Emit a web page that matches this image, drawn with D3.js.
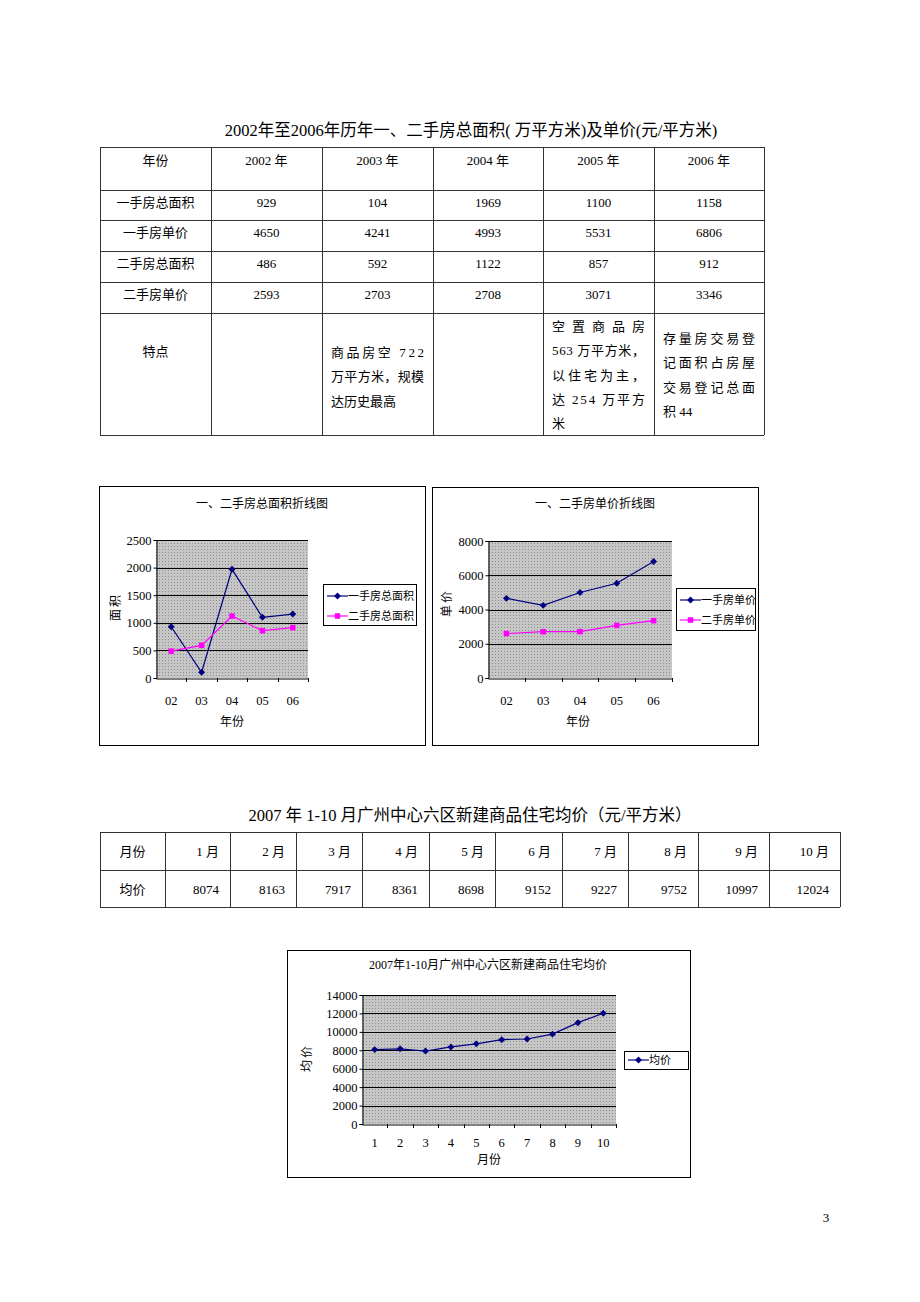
<!DOCTYPE html>
<html>
<head>
<meta charset="utf-8">
<script src="https://cdn.jsdelivr.net/npm/d3@7"></script>
<style>
  body { margin: 0; background: #fff; }
  svg text { font-family: "Liberation Serif", "Noto Sans CJK SC", serif; fill: #000; }
</style>
</head>
<body>
<svg id="page" width="920" height="1302"></svg>
<script>
// ---- data ----
const years = ["2002 年", "2003 年", "2004 年", "2005 年", "2006 年"];
const yearShort = ["02", "03", "04", "05", "06"];
const firstArea = [929, 104, 1969, 1100, 1158];
const firstPrice = [4650, 4241, 4993, 5531, 6806];
const secondArea = [486, 592, 1122, 857, 912];
const secondPrice = [2593, 2703, 2708, 3071, 3346];
const notes = [
  [],
  ["商品房空 722", "万平方米，规模", "达历史最高"],
  [],
  ["空置商品房", "563 万平方米，", "以住宅为主，", "达 254 万平方", "米"],
  ["存量房交易登", "记面积占房屋", "交易登记总面", "积 44"]
];
const months = ["1", "2", "3", "4", "5", "6", "7", "8", "9", "10"];
const monthHeads = ["1 月", "2 月", "3 月", "4 月", "5 月", "6 月", "7 月", "8 月", "9 月", "10 月"];
const avgPrice = [8074, 8163, 7917, 8361, 8698, 9152, 9227, 9752, 10997, 12024];

const svg = d3.select("#page");

// dotted grey fill like the old spreadsheet charts
const defs = svg.append("defs");
const pat = defs.append("pattern").attr("id", "dots")
  .attr("width", 3).attr("height", 3).attr("patternUnits", "userSpaceOnUse");
pat.append("rect").attr("width", 3).attr("height", 3).attr("fill", "#c6c6c6");
pat.append("rect").attr("width", 1).attr("height", 1).attr("fill", "#8e8e8e");

// ---- table 1 ----
svg.append("text").attr("x", 471).attr("y", 136).attr("text-anchor", "middle")
  .style("font-size", "16.5px")
  .text("2002年至2006年历年一、二手房总面积( 万平方米)及单价(元/平方米)");

const colX = [100, 211, 322, 433, 543, 654, 764];
const rowY = [147, 190, 220, 251, 282, 313, 435];
const rows1 = [
  ["年份"].concat(years),
  ["一手房总面积"].concat(firstArea),
  ["一手房单价"].concat(firstPrice),
  ["二手房总面积"].concat(secondArea),
  ["二手房单价"].concat(secondPrice),
  ["特点", "", "", "", "", ""]
];
const t1 = svg.append("g");
rowY.forEach(y => t1.append("line").attr("x1", colX[0]).attr("x2", colX[6])
  .attr("y1", y + 0.5).attr("y2", y + 0.5).attr("stroke", "#333"));
colX.forEach(x => t1.append("line").attr("x1", x + 0.5).attr("x2", x + 0.5)
  .attr("y1", rowY[0]).attr("y2", rowY[6]).attr("stroke", "#333"));
rows1.forEach((r, ri) => {
  const off = ri === 0 ? 18 : (ri === 5 ? 43 : 17);
  r.forEach((v, ci) => {
    t1.append("text").attr("x", (colX[ci] + colX[ci + 1]) / 2).attr("y", rowY[ri] + off)
      .attr("text-anchor", "middle").style("font-size", "13px").text(v);
  });
});
// notes cells, justified lines
const noteTop = [0, 357, 0, 331, 343];
notes.forEach((lines, i) => {
  const ci = i + 1;
  lines.forEach((s, li) => {
    const t = t1.append("text").attr("x", colX[ci] + 9).attr("y", noteTop[i] + li * 24.3)
      .style("font-size", "13px").text(s);
    if (li < lines.length - 1) t.attr("textLength", colX[ci + 1] - colX[ci] - 18).attr("lengthAdjust", "spacing");
  });
});

// ---- line chart helper ----
function lineChart(o) {
  const g = svg.append("g");
  g.append("rect").attr("x", o.box[0] + 0.5).attr("y", o.box[1] + 0.5)
    .attr("width", o.box[2] - o.box[0]).attr("height", o.box[3] - o.box[1])
    .attr("fill", "#fff").attr("stroke", "#000");
  g.append("text").attr("x", o.titleX).attr("y", o.titleY).attr("text-anchor", "middle")
    .style("font-size", "12px").text(o.title);

  const [l, t, r, b] = o.plot;
  const x = d3.scaleBand().domain(o.cats).range([l, r]).padding(0);
  const y = d3.scaleLinear().domain([0, o.yMax]).range([b, t]);

  g.append("rect").attr("x", l).attr("y", t).attr("width", r - l).attr("height", b - t)
    .attr("fill", "url(#dots)");
  // gridlines
  g.selectAll(".grid").data(y.ticks(o.tickCount).filter(d => d > 0)).join("line")
    .attr("x1", l).attr("x2", r).attr("y1", d => Math.round(y(d)) + 0.5).attr("y2", d => Math.round(y(d)) + 0.5)
    .attr("stroke", "#000");

  const ya = g.append("g").attr("transform", `translate(${l + 0.5},0)`)
    .call(d3.axisLeft(y).ticks(o.tickCount).tickSize(3).tickFormat(d3.format("d")));
  ya.select(".domain").attr("stroke", "#000");
  ya.selectAll("text").style("font-size", "12.5px").style("font-family", "Liberation Serif").attr("x", -5);

  const xa = g.append("g").attr("transform", `translate(0,${b + 0.5})`)
    .call(d3.axisBottom(x).tickSize(0).tickSizeOuter(0));
  xa.select(".domain").attr("stroke", "#000");
  xa.selectAll("text").style("font-size", "12.5px").style("font-family", "Liberation Serif").attr("dy", 0).attr("y", o.xTickY);
  // category separator ticks
  g.selectAll(".sep").data(o.cats).join("line")
    .attr("x1", d => Math.round(x(d) + x.bandwidth()) + 0.5)
    .attr("x2", d => Math.round(x(d) + x.bandwidth()) + 0.5)
    .attr("y1", b).attr("y2", b + 4).attr("stroke", "#000");

  g.append("text").attr("transform", `translate(${o.yLabel[0]},${o.yLabel[1]}) rotate(-90)`)
    .attr("text-anchor", "middle").attr("dy", "0.35em").style("font-size", "12px")
    .style("letter-spacing", "2px").text(o.yTitle);
  g.append("text").attr("x", o.xLabel[0]).attr("y", o.xLabel[1]).attr("text-anchor", "middle")
    .attr("dy", "0.35em").style("font-size", "12px").text(o.xTitle);

  const markerPath = m => m === "square"
    ? d3.symbol().type(d3.symbolSquare).size(30)()
    : d3.symbol().type(d3.symbolSquare).size(24)();
  const markerRot = m => m === "square" ? "" : " rotate(45)";

  const line = d3.line().x((d, i) => x(o.cats[i]) + x.bandwidth() / 2).y(d => y(d));
  o.series.forEach(s => {
    g.append("path").attr("d", line(s.values)).attr("fill", "none").attr("stroke", s.color).attr("stroke-width", 1.2);
    g.selectAll(null).data(s.values).join("path")
      .attr("transform", (d, i) => `translate(${x(o.cats[i]) + x.bandwidth() / 2},${y(d)})` + markerRot(s.marker))
      .attr("d", markerPath(s.marker))
      .attr("fill", s.color);
  });

  // legend
  const [ll, lt, lr, lb] = o.legend;
  g.append("rect").attr("x", ll + 0.5).attr("y", lt + 0.5).attr("width", lr - ll).attr("height", lb - lt)
    .attr("fill", "#fff").attr("stroke", "#000");
  o.series.forEach((s, i) => {
    const ly = lt + o.legendFirst + i * 20;
    g.append("line").attr("x1", ll + 4).attr("x2", ll + 25).attr("y1", ly).attr("y2", ly)
      .attr("stroke", s.color).attr("stroke-width", 1.2);
    g.append("path").attr("transform", `translate(${ll + 14.5},${ly})` + markerRot(s.marker))
      .attr("d", markerPath(s.marker))
      .attr("fill", s.color);
    g.append("text").attr("x", ll + 25).attr("y", ly).attr("dy", "0.35em")
      .style("font-size", "11px").text(s.name);
  });
}

const navy = "#000080", pink = "#ff00ff";

lineChart({
  box: [99, 486, 425, 745], title: "一、二手房总面积折线图", titleX: 262, titleY: 508,
  plot: [156, 540, 308, 678], cats: yearShort, yMax: 2500, tickCount: 5, xTickY: 26,
  yTitle: "面积", yLabel: [116, 607], xTitle: "年份", xLabel: [232, 722],
  series: [
    { name: "一手房总面积", values: firstArea, color: navy, marker: "diamond" },
    { name: "二手房总面积", values: secondArea, color: pink, marker: "square" }
  ],
  legend: [323, 584, 416, 625], legendFirst: 12
});

lineChart({
  box: [432, 487, 758, 745], title: "一、二手房单价折线图", titleX: 595, titleY: 508,
  plot: [488, 541, 672, 678], cats: yearShort, yMax: 8000, tickCount: 4, xTickY: 26,
  yTitle: "单价", yLabel: [447, 603], xTitle: "年份", xLabel: [578, 722],
  series: [
    { name: "一手房单价", values: firstPrice, color: navy, marker: "diamond" },
    { name: "二手房单价", values: secondPrice, color: pink, marker: "square" }
  ],
  legend: [676, 588, 755, 630], legendFirst: 12
});

// ---- table 2 ----
svg.append("text").attr("x", 470).attr("y", 821).attr("text-anchor", "middle")
  .style("font-size", "16.5px")
  .text("2007 年 1-10 月广州中心六区新建商品住宅均价（元/平方米）");

const colX2 = [100, 165, 230, 296, 362, 429, 495, 562, 628, 698, 769, 840];
const rowY2 = [832, 870, 907];
const t2 = svg.append("g");
rowY2.forEach(y => t2.append("line").attr("x1", colX2[0]).attr("x2", colX2[11])
  .attr("y1", y + 0.5).attr("y2", y + 0.5).attr("stroke", "#333"));
colX2.forEach(x => t2.append("line").attr("x1", x + 0.5).attr("x2", x + 0.5)
  .attr("y1", rowY2[0]).attr("y2", rowY2[2]).attr("stroke", "#333"));
[["月份"].concat(monthHeads), ["均价"].concat(avgPrice)].forEach((r, ri) => {
  r.forEach((v, ci) => {
    const tx = t2.append("text").attr("y", rowY2[ri] + 24).style("font-size", "13px").text(v);
    if (ci === 0) tx.attr("x", (colX2[0] + colX2[1]) / 2).attr("text-anchor", "middle");
    else tx.attr("x", colX2[ci + 1] - 11).attr("text-anchor", "end");
  });
});

lineChart({
  box: [287, 950, 690, 1177], title: "2007年1-10月广州中心六区新建商品住宅均价", titleX: 488, titleY: 969,
  plot: [362, 995, 616, 1124], cats: months, yMax: 14000, tickCount: 7, xTickY: 22,
  yTitle: "均价", yLabel: [307, 1058], xTitle: "月份", xLabel: [489, 1160],
  series: [
    { name: "均价", values: avgPrice, color: navy, marker: "diamond" }
  ],
  legend: [624, 1051, 688, 1069], legendFirst: 9
});

svg.append("text").attr("x", 826).attr("y", 1222).attr("text-anchor", "middle")
  .style("font-size", "13px").text("3");
</script>
</body>
</html>
